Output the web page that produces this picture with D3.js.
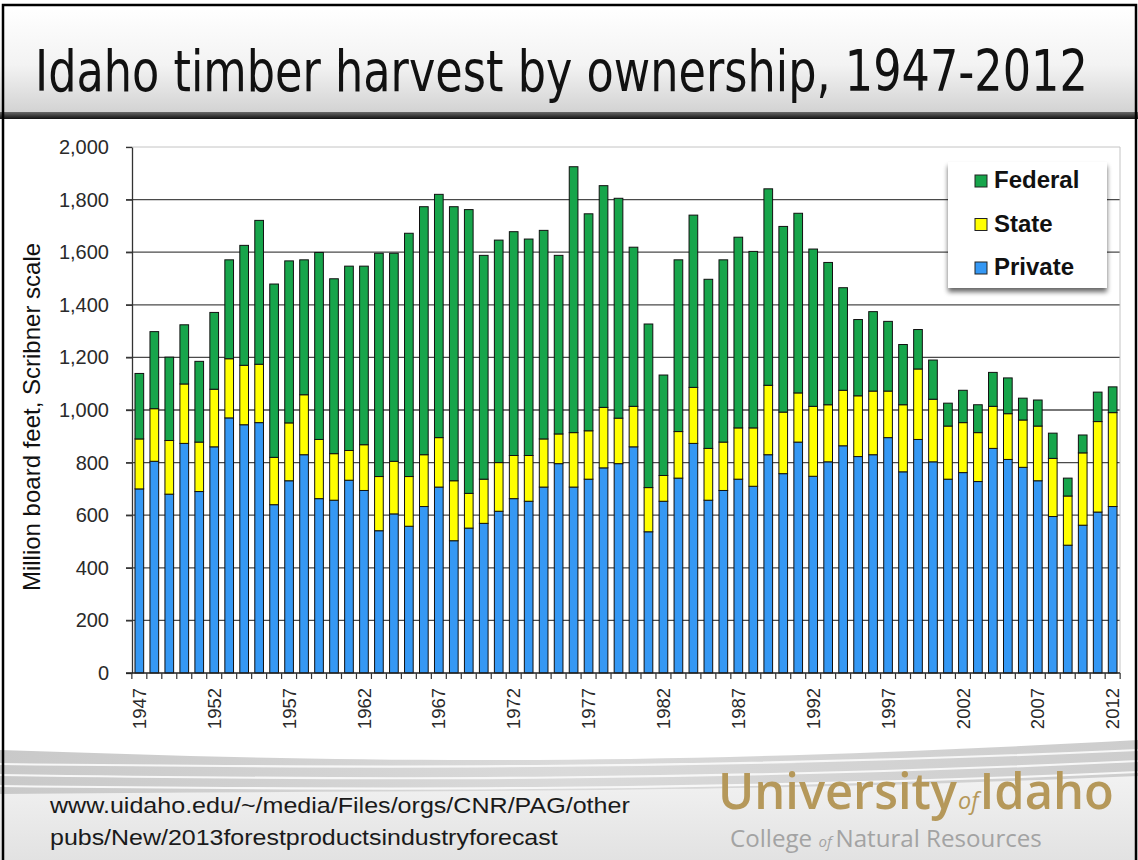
<!DOCTYPE html>
<html>
<head>
<meta charset="utf-8">
<script src="https://cdn.jsdelivr.net/npm/d3@7"></script>
<style>
  html, body { margin: 0; padding: 0; background: #fff; }
  #chart svg { display: block; }
</style>
</head>
<body>
<div id="chart"></div>
<script>
const years = [1947,1948,1949,1950,1951,1952,1953,1954,1955,1956,
    1957,1958,1959,1960,1961,1962,1963,1964,1965,1966,
    1967,1968,1969,1970,1971,1972,1973,1974,1975,1976,
    1977,1978,1979,1980,1981,1982,1983,1984,1985,1986,
    1987,1988,1989,1990,1991,1992,1993,1994,1995,1996,
    1997,1998,1999,2000,2001,2002,2003,2004,2005,2006,
    2007,2008,2009,2010,2011,2012];

// million board feet
const privateVals = [700,805,680,873,690,860,970,944,952,640,
    731,830,663,657,733,694,541,605,558,633,
    707,503,551,569,615,663,653,707,796,707,
    737,780,796,860,537,653,741,873,657,694,
    737,710,830,758,878,748,803,864,823,830,
    895,765,888,803,737,762,728,854,812,782,
    731,595,486,562,612,633];
const stateVals = [190,200,204,226,188,219,225,226,222,180,
    220,228,225,177,113,174,206,200,189,197,
    188,228,132,168,185,164,174,183,113,207,
    184,230,173,154,168,98,177,213,197,184,
    195,222,264,234,187,266,217,211,231,242,
    177,255,268,238,202,190,186,160,174,180,
    208,221,187,275,344,357];
const federalVals = [249,293,317,225,307,292,376,456,547,659,
    616,513,711,665,701,679,849,791,925,943,
    925,1042,1079,851,846,851,823,793,679,1011,
    825,843,836,605,622,382,653,655,643,693,
    725,671,747,706,683,598,541,390,290,302,
    265,229,150,149,87,123,106,129,136,83,
    99,96,68,68,112,98];

const seriesNames = ["Private", "State", "Federal"];
const seriesColors = {Private: "#3598f4", State: "#ffff00", Federal: "#17a54b"};
const yTicks = [0,200,400,600,800,1000,1200,1400,1600,1800,2000];
const xLabelYears = [1947,1952,1957,1962,1967,1972,1977,1982,1987,1992,1997,2002,2007,2012];

const title = "Idaho timber harvest by ownership, 1947-2012";
const yTitle = "Million board feet, Scribner scale";
const sourceLines = ["www.uidaho.edu/~/media/Files/orgs/CNR/PAG/other",
    "pubs/New/2013forestproductsindustryforecast"];

function Config() {
    this.width = 1138;
    this.height = 860;
    this.plotLeft = 132;
    this.plotRight = 1120;
    this.plotTop = 147;
    this.plotBottom = 673;
    this.x = d3.scaleBand()
        .domain(years)
        .range([this.plotLeft, this.plotRight])
        .paddingInner(0.42)
        .paddingOuter(0.2);
    this.y = d3.scaleLinear()
        .domain([0, 2000])
        .range([this.plotBottom, this.plotTop]);
}

// squeeze a text horizontally so it spans `w` pixels from x0
function fitWidth(sel, x0, baseline, w) {
    const len = sel.node().getComputedTextLength();
    const k = w / len;
    sel.attr("x", 0).attr("y", 0)
        .attr("transform", `translate(${x0},${baseline}) scale(${k},1)`);
}

function drawFrame(svg, cfg) {
    const defs = svg.append("defs");

    const tg = defs.append("linearGradient").attr("id", "titleGrad")
        .attr("x1", 0).attr("y1", 0).attr("x2", 0).attr("y2", 1);
    tg.append("stop").attr("offset", "0%").attr("stop-color", "#ffffff");
    tg.append("stop").attr("offset", "55%").attr("stop-color", "#f3f3f3");
    tg.append("stop").attr("offset", "100%").attr("stop-color", "#d2d2d2");

    const bar = defs.append("linearGradient").attr("id", "barGrad")
        .attr("x1", 0).attr("y1", 0).attr("x2", 0).attr("y2", 1);
    bar.append("stop").attr("offset", "0%").attr("stop-color", "#6a6a6a");
    bar.append("stop").attr("offset", "100%").attr("stop-color", "#111");

    const bg = defs.append("linearGradient").attr("id", "footGrad")
        .attr("x1", 0).attr("y1", 0).attr("x2", 0).attr("y2", 1);
    bg.append("stop").attr("offset", "0%").attr("stop-color", "#f5f5f5");
    bg.append("stop").attr("offset", "100%").attr("stop-color", "#e2e2e2");

    const sw = defs.append("linearGradient").attr("id", "swooshGrad")
        .attr("x1", 0).attr("y1", 0).attr("x2", 1).attr("y2", 0);
    sw.append("stop").attr("offset", "0%").attr("stop-color", "#c9c9c9");
    sw.append("stop").attr("offset", "50%").attr("stop-color", "#dadada");
    sw.append("stop").attr("offset", "100%").attr("stop-color", "#cdcdcd");

    const sh = defs.append("filter").attr("id", "legendShadow")
        .attr("x", "-10%").attr("y", "-10%").attr("width", "130%").attr("height", "140%");
    sh.append("feGaussianBlur").attr("in", "SourceAlpha").attr("stdDeviation", 2.5);
    sh.append("feOffset").attr("dx", 0).attr("dy", 4).attr("result", "b");
    sh.append("feComponentTransfer").append("feFuncA").attr("type", "linear").attr("slope", 0.6);
    const m = sh.append("feMerge");
    m.append("feMergeNode");
    m.append("feMergeNode").attr("in", "SourceGraphic");

    // title band
    svg.append("rect").attr("x", 0).attr("y", 6).attr("width", cfg.width).attr("height", 107)
        .attr("fill", "url(#titleGrad)");
    svg.append("rect").attr("x", 0).attr("y", 112).attr("width", cfg.width).attr("height", 7)
        .attr("fill", "url(#barGrad)");
    const t = svg.append("text")
        .attr("font-family", "'DejaVu Sans Condensed', 'DejaVu Sans', sans-serif")
        .attr("font-size", 57)
        .attr("fill", "#111")
        .text(title);
    fitWidth(t, 35, 91, 1053);

    // footer background and swoosh
    svg.append("rect").attr("x", 0).attr("y", 760).attr("width", cfg.width).attr("height", 100)
        .attr("fill", "url(#footGrad)");
    svg.append("path")
        .attr("d", "M0,750 C300,760 600,770 1138,740 L1138,776 C700,795 350,790 0,794 Z")
        .attr("fill", "url(#swooshGrad)");
    [[0, 764, 768, 1138, 750], [0, 775, 780, 1138, 761], [0, 786, 790, 1138, 772]].forEach(l => {
        svg.append("path")
            .attr("d", `M${l[0]},${l[1]} C350,${l[2]} 700,${l[2] + 2} ${l[3]},${l[4]}`)
            .attr("fill", "none").attr("stroke", "#f7f7f7").attr("stroke-width", 2.2);
    });

    // outer border
    svg.append("rect").attr("x", 3).attr("y", 5).attr("width", cfg.width - 5).attr("height", cfg.height)
        .attr("fill", "none").attr("stroke", "#000").attr("stroke-width", 2.5);
}

function drawChart(svg, cfg) {
    const x = cfg.x, y = cfg.y;

    // gridlines
    svg.append("g").selectAll("line").data(yTicks.filter(d => d > 0)).join("line")
        .attr("x1", cfg.plotLeft - 6).attr("x2", cfg.plotRight)
        .attr("y1", d => y(d)).attr("y2", d => y(d))
        .attr("stroke", d => d === 2000 ? "#c4c4c4" : "#4a4a4a")
        .attr("stroke-width", d => d === 2000 ? 1 : 1.3);
    svg.append("line")
        .attr("x1", cfg.plotRight).attr("x2", cfg.plotRight)
        .attr("y1", cfg.plotTop).attr("y2", cfg.plotBottom)
        .attr("stroke", "#c4c4c4");

    // y axis
    const yAxis = svg.append("g")
        .attr("transform", `translate(${cfg.plotLeft},0)`)
        .call(d3.axisLeft(y).tickValues(yTicks).tickSize(6).tickSizeOuter(0)
            .tickFormat(d3.format(",")).tickPadding(17));
    yAxis.select(".domain").attr("stroke", "#333").attr("stroke-width", 1.3);
    yAxis.selectAll(".tick line").attr("stroke", "#333").attr("stroke-width", 1.3);
    yAxis.selectAll("text")
        .attr("font-family", "Arial, 'Liberation Sans', sans-serif")
        .attr("font-size", 20).attr("fill", "#2a2a2a");

    svg.append("text")
        .attr("transform", `translate(40,${(cfg.plotTop + cfg.plotBottom) / 2 + 7}) rotate(-90)`)
        .attr("text-anchor", "middle")
        .attr("font-family", "Arial, 'Liberation Sans', sans-serif")
        .attr("font-size", 24).attr("fill", "#111")
        .text(yTitle);

    // stacked bars
    const rows = years.map((yr, i) => ({
        year: yr, Private: privateVals[i], State: stateVals[i], Federal: federalVals[i]
    }));
    const stacked = d3.stack().keys(seriesNames)(rows);

    svg.append("g").selectAll("g").data(stacked).join("g")
        .attr("fill", d => seriesColors[d.key])
        .selectAll("rect").data(d => d).join("rect")
        .attr("x", d => x(d.data.year))
        .attr("width", x.bandwidth())
        .attr("y", d => y(d[1]))
        .attr("height", d => y(d[0]) - y(d[1]))
        .attr("stroke", "#111").attr("stroke-width", 1);

    // x axis with ticks between bars
    const gap = (x.step() - x.bandwidth()) / 2;
    const edges = years.map(yr => x(yr) - gap).concat([x(years[years.length - 1]) + x.bandwidth() + gap]);
    svg.append("line")
        .attr("x1", cfg.plotLeft - 6).attr("x2", cfg.plotRight)
        .attr("y1", cfg.plotBottom).attr("y2", cfg.plotBottom)
        .attr("stroke", "#222").attr("stroke-width", 1.5);
    svg.append("g").selectAll("line").data(edges).join("line")
        .attr("x1", d => d).attr("x2", d => d)
        .attr("y1", cfg.plotBottom).attr("y2", cfg.plotBottom + 6)
        .attr("stroke", "#333").attr("stroke-width", 1.2);

    svg.append("g").selectAll("text").data(xLabelYears).join("text")
        .attr("transform", d => `translate(${x(d) + x.bandwidth() / 2},688) rotate(-90)`)
        .attr("text-anchor", "end")
        .attr("dy", "0.36em")
        .attr("font-family", "Arial, 'Liberation Sans', sans-serif")
        .attr("font-size", 18.5).attr("fill", "#2a2a2a")
        .text(d => d);
}

function drawLegend(svg) {
    const g = svg.append("g").attr("transform", "translate(948,162)");
    g.append("rect").attr("width", 159).attr("height", 126)
        .attr("fill", "#fff").attr("filter", "url(#legendShadow)");
    const items = seriesNames.slice().reverse();
    items.forEach((name, i) => {
        const row = g.append("g").attr("transform", `translate(27,${26 + i * 43.5})`);
        row.append("rect").attr("x", 0).attr("y", -13).attr("width", 12).attr("height", 12)
            .attr("fill", seriesColors[name]).attr("stroke", "#222").attr("stroke-width", 1);
        row.append("text").attr("x", 19).attr("y", 0)
            .attr("font-family", "Arial, 'Liberation Sans', sans-serif")
            .attr("font-weight", "bold").attr("font-size", 24).attr("fill", "#111")
            .text(name);
    });
}

function drawFooter(svg) {
    sourceLines.forEach((line, i) => {
        const t = svg.append("text")
            .attr("font-family", "'Liberation Sans Narrow', Arial, sans-serif")
            .attr("font-size", 22).attr("fill", "#1a1a1a")
            .text(line);
        fitWidth(t, 50, 813 + i * 32, i === 0 ? 580 : 508);
    });

    const logo = svg.append("text")
        .attr("font-family", "'Open Sans', 'Noto Sans', sans-serif")
        .attr("fill", "#b5985a");
    logo.append("tspan").attr("font-size", 50).attr("font-weight", 600).text("University");
    logo.append("tspan").attr("font-size", 24).attr("font-style", "italic").attr("dx", 1).text("of");
    logo.append("tspan").attr("font-size", 50).attr("font-weight", 600).attr("dx", 1).text("Idaho");
    fitWidth(logo, 718, 809, 394);

    const col = svg.append("text")
        .attr("font-family", "'Open Sans', 'Noto Sans', sans-serif")
        .attr("fill", "#a3a3a3");
    col.append("tspan").attr("font-size", 24).text("College ");
    col.append("tspan").attr("font-size", 15).attr("font-style", "italic").text("of ");
    col.append("tspan").attr("font-size", 24).text("Natural Resources");
    fitWidth(col, 730, 847, 312);
}

function onReady() {
    const cfg = new Config();
    const svg = d3.select("#chart").append("svg")
        .attr("width", cfg.width)
        .attr("height", cfg.height);
    drawFrame(svg, cfg);
    drawChart(svg, cfg);
    drawLegend(svg);
    drawFooter(svg);
}

document.addEventListener("DOMContentLoaded", () => onReady());
</script>
</body>
</html>
